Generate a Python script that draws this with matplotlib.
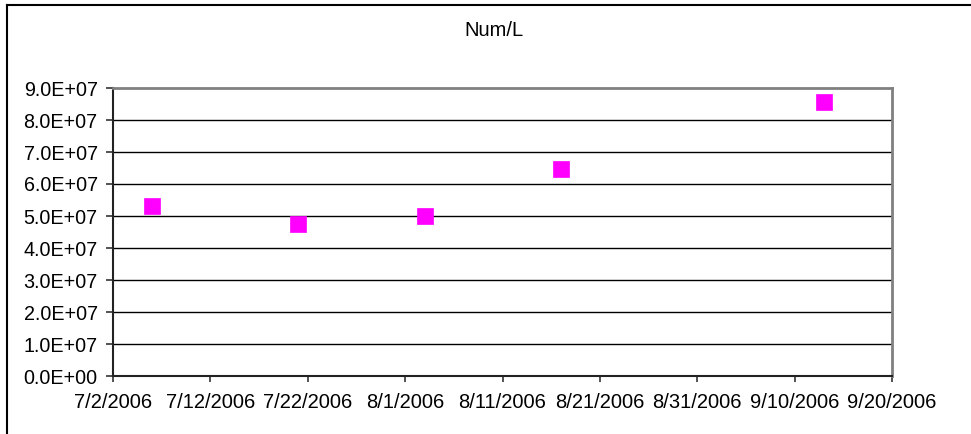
import matplotlib
matplotlib.use("Agg")
import matplotlib.pyplot as plt
from matplotlib.lines import Line2D
import datetime as dt

plt.rcParams['font.family'] = ['Liberation Sans', 'DejaVu Sans']

dates = ["2006-07-06", "2006-07-21", "2006-08-03", "2006-08-17", "2006-09-13"]
values = [5.30e7, 4.74e7, 4.99e7, 6.46e7, 8.55e7]
tick_dates = ["2006-07-02", "2006-07-12", "2006-07-22", "2006-08-01", "2006-08-11",
              "2006-08-21", "2006-08-31", "2006-09-10", "2006-09-20"]
tick_labels = ["7/2/2006", "7/12/2006", "7/22/2006", "8/1/2006", "8/11/2006",
               "8/21/2006", "8/31/2006", "9/10/2006", "9/20/2006"]
y_ticks = [0, 1e7, 2e7, 3e7, 4e7, 5e7, 6e7, 7e7, 8e7, 9e7]
y_labels = ["0.0E+00", "1.0E+07", "2.0E+07", "3.0E+07", "4.0E+07",
            "5.0E+07", "6.0E+07", "7.0E+07", "8.0E+07", "9.0E+07"]
title = "Num/L"

W, H = 971, 434
fig = plt.figure(figsize=(W / 100, H / 100), dpi=100)
ax = fig.add_axes([113 / W, 1 - 376 / H, (892 - 113) / W, (376 - 88) / H])

xd = [dt.datetime.strptime(d, "%Y-%m-%d") for d in dates]
td = [dt.datetime.strptime(d, "%Y-%m-%d") for d in tick_dates]

for yv in y_ticks[1:-1]:
    ax.axhline(yv, color='black', lw=1.0, zorder=1)

ax.plot(xd, values, linestyle='none', marker='s', markersize=11,
        markerfacecolor='#FF00FF', markeredgecolor='#FF00FF', markeredgewidth=0.5, zorder=3)

ax.set_xlim(td[0], td[-1])
ax.set_ylim(0, 9e7)
ax.set_xticks(td)
ax.set_xticklabels(tick_labels)
ax.set_yticks(y_ticks)
ax.set_yticklabels(y_labels)

ax.tick_params(axis='x', direction='out', length=4, width=1.2, color='#333333',
               labelsize=14.5, pad=8)
ax.tick_params(axis='y', direction='out', length=5, width=1.2, color='#333333',
               labelsize=14.2, pad=6)

for s in ['left', 'bottom']:
    ax.spines[s].set_color('#222222')
    ax.spines[s].set_linewidth(1.5)
for s in ['top', 'right']:
    ax.spines[s].set_color('#808080')
    ax.spines[s].set_linewidth(2)

fig.text(494 / W, 1 - 30 / H, title, ha='center', va='center', fontsize=14.5)

# outer chart-area border (top and left visible, rest cropped)
fig.add_artist(Line2D([7 / W, 1.0], [1 - 4.5 / H, 1 - 4.5 / H], color='black', lw=1.5,
                      transform=fig.transFigure))
fig.add_artist(Line2D([7 / W, 7 / W], [0, 1 - 4.5 / H], color='black', lw=1.5,
                      transform=fig.transFigure))

fig.savefig("out.png", dpi=100)
